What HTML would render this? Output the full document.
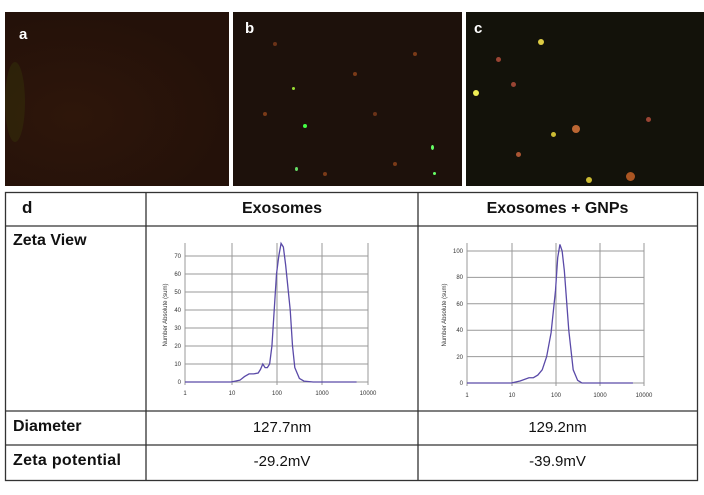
<!DOCTYPE html>
<html><head><style>
body{margin:0;width:704px;height:495px;background:#fff;position:relative;overflow:hidden;font-family:"Liberation Sans",sans-serif}
.p{position:absolute;top:12px;height:174px;overflow:hidden}
.l{position:absolute;color:#fff;font:bold 15px "Liberation Sans",sans-serif}
.t{position:absolute;font-family:"Liberation Sans",sans-serif;font-size:15px;color:#111}
.b{font-weight:bold}
.d{position:absolute;border-radius:50%}
</style></head><body>
<div class="p" style="left:5px;width:224px;background:radial-gradient(ellipse at 30% 60%,#2e160a,#241109 70%)"><div class="l" style="left:14px;top:14px">a</div>
<div class="d" style="left:0;top:50px;width:20px;height:80px;background:rgba(60,70,10,.3)"></div></div>
<div class="p" style="left:233px;width:229px;background:#1d110b"><div class="l" style="left:12px;top:8px">b</div>
<div class="d" style="left:70px;top:112px;width:4px;height:4px;background:#4f4"></div>
<div class="d" style="left:198px;top:133px;width:3px;height:5px;background:#6f6"></div>
<div class="d" style="left:62px;top:155px;width:3px;height:4px;background:#6d6"></div>
<div class="d" style="left:59px;top:75px;width:3px;height:3px;background:#9d3"></div>
<div class="d" style="left:200px;top:160px;width:3px;height:3px;background:#6f6"></div>
<div class="d" style="left:30px;top:100px;width:4px;height:4px;background:#7a3a18"></div>
<div class="d" style="left:120px;top:60px;width:4px;height:4px;background:#7a3a18"></div>
<div class="d" style="left:160px;top:150px;width:4px;height:4px;background:#7a3a18"></div>
<div class="d" style="left:90px;top:160px;width:4px;height:4px;background:#7a3a18"></div>
<div class="d" style="left:180px;top:40px;width:4px;height:4px;background:#7a3a18"></div>
<div class="d" style="left:140px;top:100px;width:4px;height:4px;background:#6a3218"></div>
<div class="d" style="left:40px;top:30px;width:4px;height:4px;background:#6a3218"></div></div>
<div class="p" style="left:466px;width:238px;background:#13120a"><div class="l" style="left:8px;top:8px">c</div>
<div class="d" style="left:7px;top:78px;width:6px;height:6px;background:#ee5"></div>
<div class="d" style="left:72px;top:27px;width:6px;height:6px;background:#dc4"></div>
<div class="d" style="left:106px;top:113px;width:8px;height:8px;background:#b63"></div>
<div class="d" style="left:160px;top:160px;width:9px;height:9px;background:#a52"></div>
<div class="d" style="left:120px;top:165px;width:6px;height:6px;background:#cb3"></div>
<div class="d" style="left:45px;top:70px;width:5px;height:5px;background:#943"></div>
<div class="d" style="left:180px;top:105px;width:5px;height:5px;background:#943"></div>
<div class="d" style="left:50px;top:140px;width:5px;height:5px;background:#a53"></div>
<div class="d" style="left:85px;top:120px;width:5px;height:5px;background:#cb3"></div>
<div class="d" style="left:30px;top:45px;width:5px;height:5px;background:#943"></div></div>

<svg style="position:absolute;left:0;top:0" width="704" height="495">
<g stroke="#333" stroke-width="1.3" fill="none">
<rect x="5.5" y="192.5" width="692" height="288"/>
<line x1="146" y1="192" x2="146" y2="480"/><line x1="418" y1="192" x2="418" y2="480"/>
<line x1="5" y1="226" x2="697" y2="226"/><line x1="5" y1="411" x2="697" y2="411"/><line x1="5" y1="445" x2="697" y2="445"/>
</g>
<g stroke="#999" stroke-width="1" fill="none">
<line x1="185" y1="382" x2="368" y2="382"/>
<line x1="185" y1="364" x2="368" y2="364"/><line x1="185" y1="346" x2="368" y2="346"/><line x1="185" y1="328" x2="368" y2="328"/><line x1="185" y1="310" x2="368" y2="310"/><line x1="185" y1="292" x2="368" y2="292"/><line x1="185" y1="274" x2="368" y2="274"/><line x1="185" y1="256" x2="368" y2="256"/>
<line x1="185" y1="243" x2="185" y2="385"/><line x1="232" y1="243" x2="232" y2="385"/><line x1="277" y1="243" x2="277" y2="385"/><line x1="322" y1="243" x2="322" y2="385"/><line x1="368" y1="243" x2="368" y2="385"/>
</g>
<g transform="translate(185,382) scale(45.75,-1.8)"><polyline vector-effect="non-scaling-stroke" fill="none" stroke="#5a4aa8" stroke-width="1.3" points="0,0 1,0 1.1,0.5 1.2,1 1.3,3 1.4,4.5 1.5,4.5 1.6,5 1.65,7 1.7,10 1.75,8 1.8,8 1.85,10 1.9,20 1.95,40 2,60 2.05,70 2.1,77 2.15,75 2.2,65 2.3,40 2.35,20 2.4,8 2.5,2 2.6,0.5 2.8,0 3.75,0"/></g>
<g font-size="6" fill="#333" font-family="Liberation Sans">
<text x="181" y="258" text-anchor="end">70</text><text x="181" y="276" text-anchor="end">60</text><text x="181" y="294" text-anchor="end">50</text><text x="181" y="312" text-anchor="end">40</text><text x="181" y="330" text-anchor="end">30</text><text x="181" y="348" text-anchor="end">20</text><text x="181" y="366" text-anchor="end">10</text><text x="181" y="384" text-anchor="end">0</text>
<text x="185" y="395" text-anchor="middle">1</text><text x="232" y="395" text-anchor="middle">10</text><text x="277" y="395" text-anchor="middle">100</text><text x="322" y="395" text-anchor="middle">1000</text><text x="368" y="395" text-anchor="middle">10000</text>
<text transform="translate(167,315) rotate(-90)" text-anchor="middle">Number Absolute (sum)</text>
</g>
<g stroke="#999" stroke-width="1" fill="none">
<line x1="467" y1="383" x2="644" y2="383"/><line x1="467" y1="356.6" x2="644" y2="356.6"/><line x1="467" y1="330.2" x2="644" y2="330.2"/><line x1="467" y1="303.8" x2="644" y2="303.8"/><line x1="467" y1="277.4" x2="644" y2="277.4"/><line x1="467" y1="251" x2="644" y2="251"/>
<line x1="467" y1="243" x2="467" y2="386"/><line x1="512" y1="243" x2="512" y2="386"/><line x1="556" y1="243" x2="556" y2="386"/><line x1="600" y1="243" x2="600" y2="386"/><line x1="644" y1="243" x2="644" y2="386"/>
</g>
<g transform="translate(467,383) scale(44.25,-1.32)"><polyline vector-effect="non-scaling-stroke" fill="none" stroke="#5a4aa8" stroke-width="1.3" points="0,0 1,0 1.2,1.5 1.4,4 1.5,4 1.6,6 1.7,10 1.8,20 1.9,38 2,70 2.05,95 2.1,105 2.15,100 2.2,85 2.3,40 2.4,10 2.5,2 2.6,0 3.75,0"/></g>
<g font-size="6" fill="#333" font-family="Liberation Sans">
<text x="463" y="253" text-anchor="end">100</text><text x="463" y="279" text-anchor="end">80</text><text x="463" y="306" text-anchor="end">60</text><text x="463" y="332" text-anchor="end">40</text><text x="463" y="359" text-anchor="end">20</text><text x="463" y="385" text-anchor="end">0</text>
<text x="467" y="397" text-anchor="middle">1</text><text x="512" y="397" text-anchor="middle">10</text><text x="556" y="397" text-anchor="middle">100</text><text x="600" y="397" text-anchor="middle">1000</text><text x="644" y="397" text-anchor="middle">10000</text>
<text transform="translate(446,315) rotate(-90)" text-anchor="middle">Number Absolute (sum)</text>
</g>
</svg>
<div class="t b" style="left:22px;top:198px;font-size:17px">d</div>
<div class="t b" style="left:146px;width:272px;top:200px;text-align:center;font-size:16px">Exosomes</div>
<div class="t b" style="left:418px;width:279px;top:200px;text-align:center;font-size:16px">Exosomes + GNPs</div>
<div class="t b" style="left:13px;top:232px;font-size:16px">Zeta View</div>
<div class="t b" style="left:13px;top:418px;font-size:16px">Diameter</div>
<div class="t" style="left:146px;width:272px;top:419px;text-align:center">127.7nm</div>
<div class="t" style="left:418px;width:279px;top:419px;text-align:center">129.2nm</div>
<div class="t b" style="left:13px;top:452px;font-size:16px;letter-spacing:0.3px">Zeta potential</div>
<div class="t" style="left:146px;width:272px;top:453px;text-align:center">-29.2mV</div>
<div class="t" style="left:418px;width:279px;top:453px;text-align:center">-39.9mV</div>
</body></html>
